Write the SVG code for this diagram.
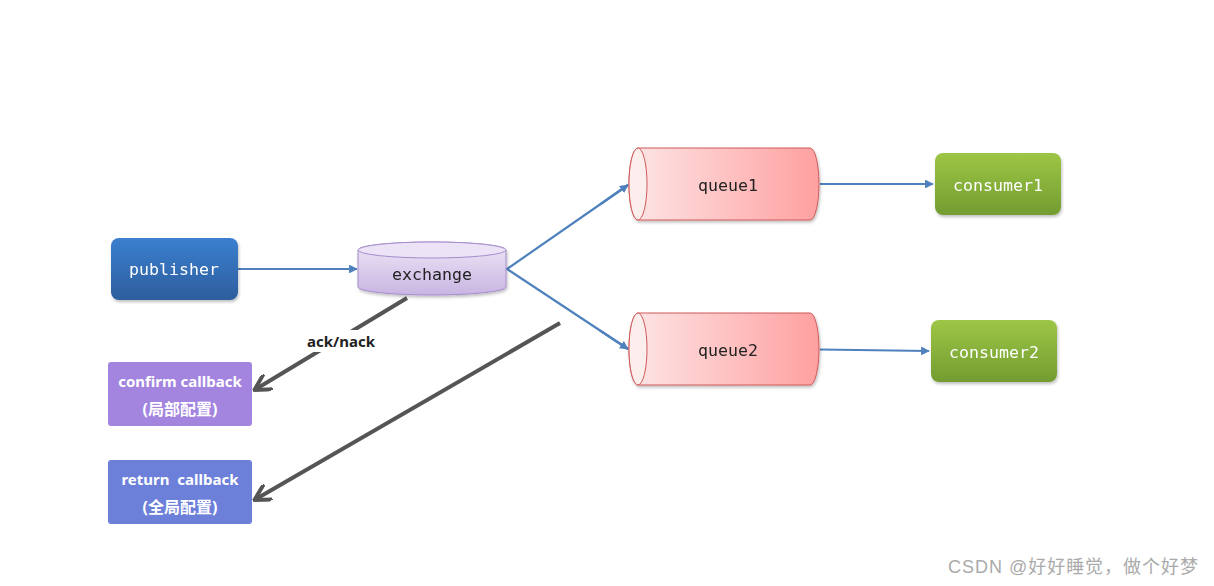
<svg xmlns="http://www.w3.org/2000/svg" width="1214" height="586" viewBox="0 0 1214 586">
<defs>
<linearGradient id="gBlue" x1="0" y1="0" x2="0" y2="1"><stop offset="0" stop-color="#3b7fcf"/><stop offset="1" stop-color="#2d5e9d"/></linearGradient>
<linearGradient id="gGreen" x1="0" y1="0" x2="0" y2="1"><stop offset="0" stop-color="#9dc646"/><stop offset="1" stop-color="#739c31"/></linearGradient>
<linearGradient id="gPurple" x1="0" y1="0" x2="0" y2="1"><stop offset="0" stop-color="#eee6f7"/><stop offset="1" stop-color="#c9b5e2"/></linearGradient>
<linearGradient id="gRed" x1="0" y1="0" x2="1" y2="0"><stop offset="0" stop-color="#fde6e6"/><stop offset="1" stop-color="#ffa0a0"/></linearGradient>
<filter id="sh" x="-10%" y="-10%" width="130%" height="140%"><feDropShadow dx="1" dy="2" stdDeviation="1.5" flood-color="#000" flood-opacity="0.25"/></filter>
<marker id="mBlue" viewBox="0 0 10 10" refX="9" refY="5" markerWidth="4" markerHeight="4" orient="auto"><path d="M0,0 L10,5 L0,10 z" fill="#4f81bd"/></marker>
<marker id="mGray" viewBox="0 0 10 10" refX="8" refY="5" markerWidth="4.5" markerHeight="4.5" orient="auto"><path d="M0,0 L9,5 L0,10" fill="none" stroke="#555" stroke-width="2.2"/></marker>
<style>
.mono{font-family:"DejaVu Sans Mono","Liberation Mono",monospace;font-size:16.6px;text-anchor:middle;dominant-baseline:central}
.cb{font-family:"Noto Sans","Noto Sans CJK SC",sans-serif;font-weight:bold;font-size:15px;fill:#fff;text-anchor:middle;dominant-baseline:central}
.cj{font-size:16px}
.blue{stroke:#4f81bd;stroke-width:2.2;fill:none;marker-end:url(#mBlue)}
.gray{stroke:#555;stroke-width:4;fill:none;marker-end:url(#mGray)}
</style>
</defs>
<rect width="1214" height="586" fill="#fff"/>
<g id="connectors">
<line class="blue" x1="238" y1="269" x2="357" y2="269"/>
<polyline fill="none" stroke="#4f81bd" stroke-width="2.2" points="628,185 507,269 628,349"/>
<line class="blue" x1="600" y1="204.5" x2="628" y2="185"/>
<line class="blue" x1="600" y1="330.5" x2="628" y2="349"/>
<line class="blue" x1="820" y1="184" x2="933" y2="184"/>
<line class="blue" x1="820" y1="349.5" x2="929" y2="351"/>
<line class="gray" x1="407" y1="298" x2="256" y2="389"/>
<line class="gray" x1="560" y1="323" x2="256" y2="499"/>
<rect x="303" y="330" width="76" height="22" fill="#fff"/>
<text x="341" y="341" font-family="Noto Sans, Noto Sans CJK SC, sans-serif" font-weight="bold" font-size="15" fill="#222" text-anchor="middle" dominant-baseline="central">ack/nack</text>
</g>
<g id="publisher" filter="url(#sh)">
<rect x="111" y="238" width="127" height="62" rx="8" fill="url(#gBlue)"/>
<text class="mono" x="174" y="269" fill="#fff">publisher</text>
</g>
<g id="exchange" filter="url(#sh)">
<path d="M358,250 L358,287 A74,8 0 0 0 506,287 L506,250 A74,8 0 0 0 358,250 z" fill="url(#gPurple)" stroke="#a58ccd" stroke-width="1"/>
<ellipse cx="432" cy="250" rx="74" ry="8" fill="#ece3f6" stroke="#a58ccd" stroke-width="1"/>
<text class="mono" x="432" y="274" fill="#222">exchange</text>
</g>
<g id="queue1" filter="url(#sh)">
<path d="M638,148 L810,148 A9,36 0 0 1 810,220 L638,220 A9,36 0 0 1 638,148 z" fill="url(#gRed)" stroke="#cf5a5a" stroke-width="1"/>
<ellipse cx="638" cy="184" rx="9" ry="36" fill="#fdeeee" stroke="#cf5a5a" stroke-width="1"/>
<text class="mono" x="728" y="185" fill="#222">queue1</text>
</g>
<g id="queue2" filter="url(#sh)">
<path d="M638,313 L810,313 A9,36 0 0 1 810,385 L638,385 A9,36 0 0 1 638,313 z" fill="url(#gRed)" stroke="#cf5a5a" stroke-width="1"/>
<ellipse cx="638" cy="349" rx="9" ry="36" fill="#fdeeee" stroke="#cf5a5a" stroke-width="1"/>
<text class="mono" x="728" y="350" fill="#222">queue2</text>
</g>
<g id="consumer1" filter="url(#sh)">
<rect x="935" y="153" width="126" height="62" rx="8" fill="url(#gGreen)"/>
<text class="mono" x="998" y="185" fill="#fff">consumer1</text>
</g>
<g id="consumer2" filter="url(#sh)">
<rect x="931" y="320" width="126" height="62" rx="8" fill="url(#gGreen)"/>
<text class="mono" x="994" y="352" fill="#fff">consumer2</text>
</g>
<g id="confirm-callback">
<rect x="108" y="362" width="144" height="64" rx="3" fill="#a385e0"/>
<text class="cb" x="180" y="381">confirm callback</text>
<text class="cb cj" x="180" y="409">(局部配置)</text>
</g>
<g id="return-callback">
<rect x="108" y="460" width="144" height="64" rx="3" fill="#6c7fd9"/>
<text class="cb" x="180" y="479" xml:space="preserve">return  callback</text>
<text class="cb cj" x="180" y="507">(全局配置)</text>
</g>
<text x="948" y="567" textLength="250" lengthAdjust="spacing" font-family="Liberation Sans, Noto Sans CJK SC, sans-serif" font-size="18" fill="#aaa" dominant-baseline="central">CSDN @好好睡觉，做个好梦</text>
</svg>
